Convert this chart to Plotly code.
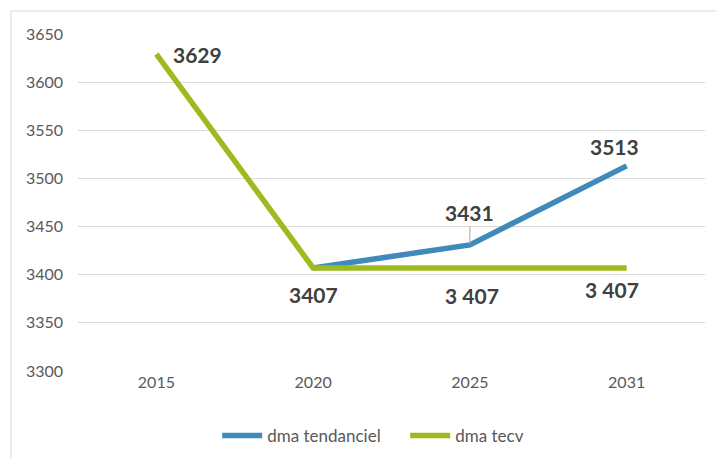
import plotly.graph_objects as go

years = ["2015", "2020", "2025", "2031"]
tend_years = ["2020", "2025", "2031"]
tend_values = [3407, 3431, 3513]
tend_labels = ["", "3431", "3513"]
tecv_years = ["2015", "2020", "2025", "2031"]
tecv_values = [3629, 3407, 3407, 3407]
tecv_labels = ["3629", "3407", "3 407", "3 407"]
y_ticks = [3300, 3350, 3400, 3450, 3500, 3550, 3600, 3650]

BLUE = "#3F8AB8"
GREEN = "#9DBA1E"
LABEL = "#404040"
TICK = "#595959"

idx = {y: i for i, y in enumerate(years)}
tend_x = [idx[y] for y in tend_years]
tecv_x = [idx[y] for y in tecv_years]

fig = go.Figure()
fig.add_trace(go.Scatter(x=tend_x, y=tend_values, mode="lines", name="dma tendanciel",
                         line=dict(color=BLUE, width=5.5)))
fig.add_trace(go.Scatter(x=tecv_x, y=tecv_values, mode="lines", name="dma tecv",
                         line=dict(color=GREEN, width=5.5)))

lab_font = dict(family="Lato", size=21, color=LABEL)
# green labels
offsets_tecv = [(15, 0, "left"), (0, -27, "center"), (2, -28, "center"), (-15, -22, "center")]
for x, y, t, (dx, dy, xa) in zip(tecv_x, tecv_values, tecv_labels, offsets_tecv):
    fig.add_annotation(x=x, y=y, xref="x", yref="y", text="<b>%s</b>" % t, showarrow=False,
                       xshift=dx, yshift=dy, xanchor=xa, yanchor="middle", font=lab_font)
# blue labels
fig.add_annotation(x=tend_x[1], y=tend_values[1], xref="x", yref="y",
                   text="<b>%s</b>" % tend_labels[1],
                   showarrow=True, arrowhead=0, arrowwidth=1, arrowcolor="#A6A6A6",
                   ax=0, ay=-32, standoff=1, font=lab_font)
fig.add_annotation(x=tend_x[2], y=tend_values[2], xref="x", yref="y",
                   text="<b>%s</b>" % tend_labels[2],
                   showarrow=False, xshift=-12, yshift=19, font=lab_font)

# chart border
fig.add_shape(type="rect", xref="paper", yref="paper", x0=-0.107, x1=1.2, y0=-0.4, y1=1.068,
              line=dict(color="#D9D9D9", width=1), fillcolor="rgba(0,0,0,0)", layer="below")

fig.update_layout(
    width=716, height=458,
    margin=dict(l=78, r=11, t=34, b=87, autoexpand=False),
    paper_bgcolor="white", plot_bgcolor="white",
    font=dict(family="Lato", size=16, color=TICK),
    showlegend=True,
    legend=dict(orientation="h", x=0.222, xanchor="left", y=-0.193, yanchor="middle",
                font=dict(family="Lato", size=17, color=TICK), itemwidth=40,
                entrywidth=133),
    xaxis=dict(range=[-0.5, 3.5], tickvals=list(range(len(years))), ticktext=years,
               showgrid=False, showline=False, zeroline=False, ticks="",
               tickfont=dict(family="Lato", size=16, color=TICK), fixedrange=True),
    yaxis=dict(range=[3300, 3650], tickvals=y_ticks, showgrid=True, gridcolor="#D9D9D9",
               gridwidth=1, zeroline=False, showline=False, ticks="", ticklabelstandoff=14,
               tickfont=dict(family="Lato", size=16, color=TICK), fixedrange=True),
)

fig.write_html("out.html")
